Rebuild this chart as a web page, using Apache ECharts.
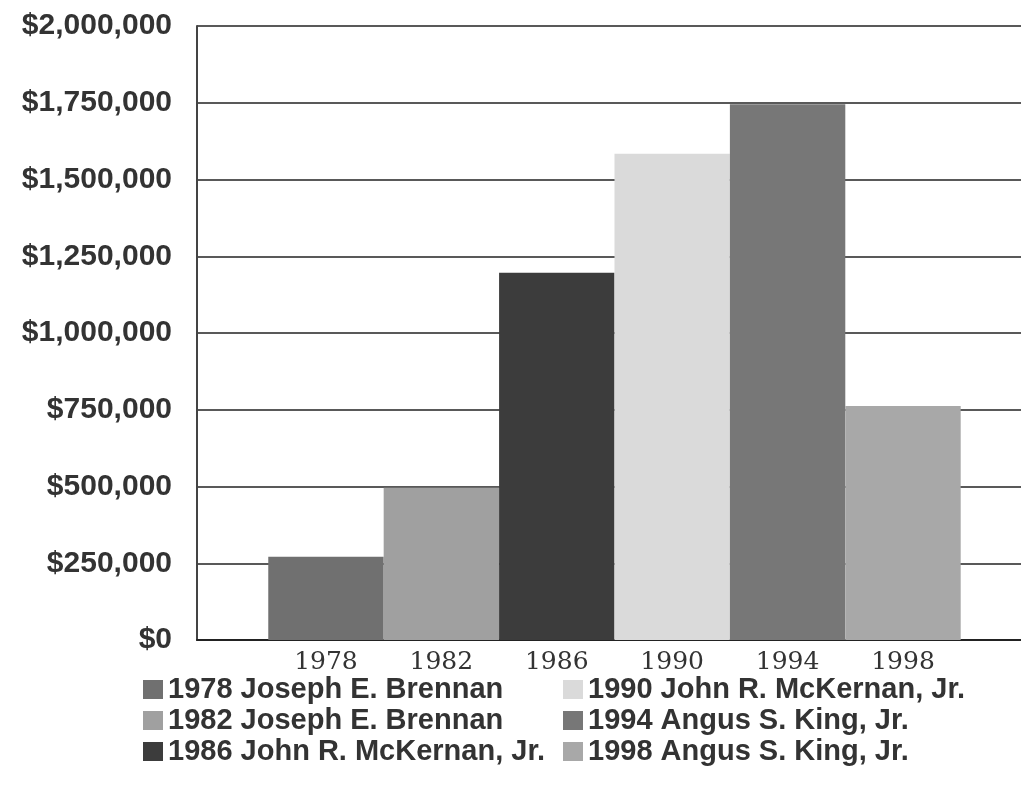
<!DOCTYPE html>
<html>
<head>
<meta charset="utf-8">
<script src="https://cdn.jsdelivr.net/npm/echarts@6/dist/echarts.min.js"></script>
<style>
  html, body { margin: 0; padding: 0; background: #fff; }
  #chart { width: 1021px; height: 787px; }
</style>
</head>
<body>
<div id="chart"></div>
<script>
// election years and spending per campaign
const years = [1978, 1982, 1986, 1990, 1994, 1998];
const candidates = [
  "1978 Joseph E. Brennan",
  "1982 Joseph E. Brennan",
  "1986 John R. McKernan, Jr.",
  "1990 John R. McKernan, Jr.",
  "1994 Angus S. King, Jr.",
  "1998 Angus S. King, Jr."
];
const spending = [271000, 496000, 1196000, 1584000, 1745000, 762000];

// grey shades for each bar
const greys = ["#707070", "#a0a0a0", "#3c3c3c", "#dadada", "#777777", "#a8a8a8"];

const chart = echarts.init(document.getElementById("chart"));

const series = candidates.map((name, i) => ({
  name: name,
  type: "bar",
  barWidth: 115.4,
  barGap: "-100%",
  itemStyle: { color: greys[i] },
  data: [[years[i], spending[i]]]
}));

const legendText = {
  fontFamily: "Liberation Sans, Arial, sans-serif",
  fontWeight: "bold",
  fontSize: 29,
  color: "#333"
};

// shared legend look, two columns
const legendBase = {
  orient: "vertical",
  top: 675,
  padding: 0,
  itemWidth: 20,
  itemHeight: 19,
  itemGap: 2,
  itemTextGap: 15,
  icon: "rect",
  textStyle: legendText
};

chart.setOption({
  animation: false,
  grid: { left: 197, right: 0, top: 26, bottom: 147 },
  xAxis: {
    type: "value",
    min: 1973.53,
    max: 2002.09,
    splitLine: { show: false },
    axisLine: { show: true, lineStyle: { color: "#222", width: 2 } },
    axisTick: { show: false },
    axisLabel: {
      customValues: years,
      formatter: v => String(v),
      fontFamily: "DejaVu Serif, Liberation Serif, serif",
      fontSize: 25,
      color: "#333",
      margin: 10
    }
  },
  yAxis: {
    type: "value",
    min: 0,
    max: 2000000,
    interval: 250000,
    axisLine: { show: true, lineStyle: { color: "#444", width: 2 } },
    axisTick: { show: false },
    splitLine: { lineStyle: { color: "#222", width: 1.5 } },
    axisLabel: {
      margin: 25,
      fontFamily: "Liberation Sans, Arial, sans-serif",
      fontWeight: "bold",
      fontSize: 30,
      color: "#333",
      padding: [0, 0, 8, 0],
      formatter: v => "$" + v.toLocaleString("en-US")
    }
  },
  legend: [
    Object.assign({}, legendBase, { data: candidates.slice(0, 3), left: 143 }),
    Object.assign({}, legendBase, { data: candidates.slice(3), left: 563 })
  ],
  series: series
});
</script>
</body>
</html>
